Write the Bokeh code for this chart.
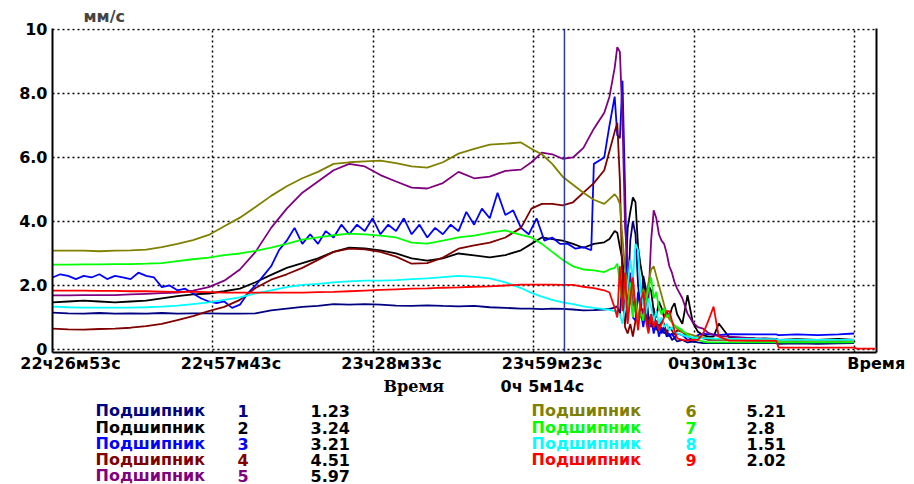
import numpy as np
from bokeh.plotting import figure
from bokeh.models import Span, LinearAxis, FixedTicker, Range1d
from bokeh.layouts import column
from bokeh.core.properties import value
from bokeh.embed import file_html
from bokeh.resources import INLINE

FONT = "DejaVu Sans"
SERIF = "DejaVu Serif"
nan = float("nan")

# time axis: minutes after 22:26:53
t_min = [0, 3, 6, 9, 12, 15, 18, 21, 24, 27, 30, 33, 36, 39, 42, 45, 48, 51, 54, 57, 60, 63, 66, 69, 72, 75, 78, 81, 84, 87, 90,
         92, 94, 96, 98, 100, 102, 104, 106, 107,
         108, 108.5, 109, 109.5, 110, 110.5, 111, 111.5, 112, 112.5, 113, 113.5, 114, 114.5, 115, 115.5, 116, 116.5, 117, 117.5, 118, 118.5, 119, 119.5, 120,
         121, 122, 123, 124, 125, 126,
         127, 128, 130, 135, 139, 139.5, 143, 147, 151, 154, 154.5, 158]

s1 = [1.15, 1.13, 1.12, 1.14, 1.12, 1.13, 1.12, 1.14, 1.12, 1.13, 1.13, 1.12, 1.12, 1.13, 1.22, 1.28, 1.33, 1.36, 1.42, 1.40, 1.42, 1.40, 1.37, 1.36, 1.38, 1.36, 1.35, 1.36, 1.32, 1.30, 1.28,
      1.28, 1.26, 1.28, 1.27, 1.25, 1.22, 1.23, 1.25, 1.27,
      1.31, 1.35, 1.10, 2.20, 0.80, 1.50, 3.40, 4.00, 3.60, 2.00, 1.20, 2.30, 1.90, 1.00, 0.70, 1.30, 0.60, 0.90, 0.50, 0.70, 0.40, 0.50, 0.30, 0.35, 0.25,
      0.30, 0.22, 0.25, 0.22, 0.20, 0.20,
      0.20, 0.20, 0.20, 0.20, 0.20, 0.18, 0.19, 0.18, 0.19, 0.20, nan, nan]
s2 = [1.47, 1.50, 1.53, 1.50, 1.47, 1.50, 1.53, 1.60, 1.67, 1.72, 1.75, 1.82, 1.90, 2.10, 2.33, 2.55, 2.70, 2.85, 3.05, 3.18, 3.16, 3.10, 3.00, 2.85, 2.78, 2.85, 3.00, 2.94, 2.88, 2.95, 3.10,
      3.30, 3.50, 3.45, 3.40, 3.30, 3.18, 3.30, 3.35, 3.45,
      3.70, 3.65, 3.20, 2.80, 1.80, 3.80, 4.30, 4.75, 4.60, 3.20, 2.60, 2.15, 1.40, 2.00, 1.84, 1.20, 1.00, 1.50, 1.30, 1.00, 1.20, 1.00, 1.30, 1.45, 1.10,
      0.80, 1.70, 0.85, 0.55, 0.45, 0.40,
      0.40, 0.81, 0.38, 0.35, 0.33, 0.30, 0.32, 0.30, 0.33, 0.30, nan, nan]
# series 3 is noisier: its own, denser time list before the breakdown
t3_head = [0, 1.5, 3, 4.5, 6, 7.5, 9, 10.5, 12, 13.5, 15, 16.5, 18, 19.5, 21, 22.5, 24, 25.5, 27, 28.5,
           30, 31.5, 33, 34.5, 36, 37.5, 39, 40.5, 42, 43.5, 45, 46.5, 48, 49.5, 51, 52.5, 54, 55.5, 57, 58.5,
           60, 61.5, 63, 64.5, 66, 67.5, 69, 70.5, 72, 73.5, 75, 76.5, 78, 79.5, 81, 82.5, 84, 85.5, 87, 88.5,
           90, 91.5, 93, 94.5, 96, 97.5, 99, 100.5, 102, 103.5, 104, 106, 107]
s3_head = [2.25, 2.35, 2.30, 2.20, 2.30, 2.25, 2.35, 2.20, 2.30, 2.25,
           2.20, 2.40, 2.30, 2.25, 1.95, 2.00, 1.85, 1.90, 1.75, 1.60,
           1.50, 1.45, 1.50, 1.30, 1.40, 1.75, 2.00, 2.30, 2.60, 3.10,
           3.40, 3.80, 3.30, 3.60, 3.30, 3.70, 3.50, 3.90, 3.60, 3.90,
           3.70, 4.10, 3.60, 3.90, 3.70, 4.10, 3.60, 3.90, 3.50, 3.80,
           3.60, 3.90, 3.70, 4.30, 3.90, 4.40, 4.10, 4.90, 4.20, 4.35,
           3.80, 3.60, 4.10, 3.40, 3.50, 3.30, 3.30, 3.15, 3.20, 3.10,
           5.80, 6.00, 7.00]
s3_tail = [7.90, 6.70, 6.60, 8.40, 5.00, 1.20, 2.40, 1.00, 0.90, 1.80, 1.20, 0.70, 1.30, 0.60, 1.00, 0.50, 0.90, 0.40, 0.70, 0.50, 0.60, 0.40, 0.50, 0.35, 0.50,
           0.45, 0.30, 0.35, 0.45, 0.50, 0.47,
           0.47, 0.45, 0.48, 0.47, 0.47, 0.45, 0.47, 0.45, 0.47, 0.50, nan, nan]
s4 = [0.65, 0.63, 0.62, 0.64, 0.65, 0.68, 0.73, 0.80, 0.92, 1.04, 1.20, 1.33, 1.55, 1.92, 2.18, 2.35, 2.55, 2.80, 3.05, 3.15, 3.13, 3.05, 2.90, 2.68, 2.70, 2.87, 3.15, 3.25, 3.34, 3.50, 3.80,
      4.40, 4.55, 4.55, 4.50, 4.60, 4.90, 5.20, 5.60, 6.20,
      6.80, 7.08, 5.30, 2.00, 0.70, 0.50, 0.80, 0.40, 0.90, 1.10, 1.00, 1.30, 1.00, 0.80, 1.10, 0.70, 0.90, 0.60, 0.90, 0.80, 0.50, 0.70, 0.60, 0.45, 0.60,
      0.55, 0.40, 0.35, 0.40, 0.35, 0.30,
      0.30, 0.30, 0.30, 0.28, 0.28, 0.30, 0.28, 0.30, 0.28, 0.30, nan, nan]
s5 = [1.69, 1.69, 1.70, 1.70, 1.70, 1.72, 1.74, 1.76, 1.78, 1.84, 1.95, 2.15, 2.50, 3.05, 3.80, 4.40, 4.90, 5.25, 5.60, 5.80, 5.72, 5.45, 5.25, 5.06, 5.03, 5.20, 5.55, 5.35, 5.40, 5.58, 5.62,
      5.85, 6.15, 6.10, 5.96, 6.00, 6.30, 6.90, 7.40, 7.90,
      8.80, 9.45, 9.30, 7.20, 3.80, 2.70, 2.20, 1.50, 1.20, 1.00, 1.30, 1.10, 1.40, 1.60, 3.40, 4.35, 4.10, 3.60, 3.40, 3.30, 3.00, 2.60, 2.40, 2.10, 1.90,
      1.60, 1.12, 0.85, 0.70, 0.65, 0.52,
      0.45, 0.42, 0.40, 0.35, 0.32, 0.30, 0.30, 0.30, 0.30, 0.30, nan, nan]
s6 = [3.09, 3.09, 3.09, 3.07, 3.09, 3.10, 3.12, 3.20, 3.30, 3.42, 3.58, 3.85, 4.12, 4.45, 4.80, 5.10, 5.35, 5.55, 5.80, 5.85, 5.88, 5.90, 5.82, 5.72, 5.68, 5.85, 6.12, 6.27, 6.40, 6.43, 6.47,
      6.27, 6.10, 5.80, 5.40, 5.15, 4.90, 4.68, 4.55, 4.70,
      4.85, 4.75, 4.55, 3.50, 2.50, 1.90, 1.40, 2.00, 1.20, 1.00, 1.50, 1.90, 1.60, 2.10, 2.50, 2.60, 2.30, 2.00, 1.70, 1.40, 1.10, 0.95, 0.85, 0.75, 0.65,
      0.55, 0.50, 0.45, 0.40, 0.38, 0.35,
      0.33, 0.32, 0.30, 0.28, 0.27, 0.27, 0.27, 0.27, 0.27, 0.27, nan, nan]
s7 = [2.65, 2.65, 2.66, 2.66, 2.67, 2.67, 2.68, 2.70, 2.76, 2.82, 2.87, 2.95, 3.00, 3.08, 3.18, 3.30, 3.43, 3.50, 3.57, 3.62, 3.60, 3.56, 3.50, 3.34, 3.31, 3.40, 3.50, 3.56, 3.65, 3.72, 3.58,
      3.50, 3.30, 3.05, 2.80, 2.60, 2.50, 2.47, 2.42, 2.50,
      2.55, 2.68, 2.10, 1.40, 2.00, 1.20, 2.10, 1.00, 1.60, 0.70, 1.20, 0.90, 1.50, 1.90, 2.25, 1.60, 1.80, 1.30, 1.10, 1.30, 1.00, 1.10, 0.85, 0.75, 0.70,
      0.60, 0.45, 0.35, 0.30, 0.25, 0.22,
      0.22, 0.22, 0.22, 0.22, 0.22, 0.22, 0.22, 0.22, 0.22, 0.22, nan, nan]
s8 = [1.34, 1.32, 1.31, 1.31, 1.31, 1.31, 1.32, 1.34, 1.37, 1.42, 1.47, 1.55, 1.63, 1.75, 1.85, 1.95, 2.02, 2.05, 2.10, 2.13, 2.15, 2.15, 2.17, 2.20, 2.22, 2.26, 2.30, 2.27, 2.22, 2.10, 1.92,
      1.77, 1.65, 1.55, 1.47, 1.42, 1.35, 1.30, 1.26, 1.24,
      1.20, 1.15, 1.10, 0.80, 1.30, 2.00, 2.80, 2.20, 3.30, 3.10, 1.80, 1.40, 1.10, 1.60, 1.30, 0.90, 1.20, 0.80, 1.00, 0.70, 0.80, 0.60, 0.70, 0.55, 0.50,
      0.45, 0.40, 0.38, 0.36, 0.35, 0.35,
      0.34, 0.34, 0.33, 0.33, 0.32, 0.30, 0.30, 0.30, 0.30, 0.30, nan, nan]
s9 = [1.84, 1.84, 1.84, 1.83, 1.83, 1.82, 1.82, 1.81, 1.80, 1.80, 1.79, 1.78, 1.78, 1.78, 1.78, 1.78, 1.78, 1.79, 1.80, 1.82, 1.84, 1.86, 1.88, 1.90, 1.91, 1.93, 1.94, 1.96, 1.97, 2.00, 2.03,
      2.03, 2.03, 2.03, 2.02, 2.02, 1.96, 1.92, 1.85, 1.78,
      1.30, 1.00, 2.60, 1.20, 2.40, 0.80, 1.60, 2.25, 1.30, 0.60, 1.50, 1.80, 0.90, 0.50, 1.10, 0.70, 0.90, 0.60, 0.80, 1.00, 1.20, 1.20, 0.90, 0.60, 0.35,
      0.30, 0.28, 0.30, 0.30, 0.50, 0.90,
      1.34, 0.40, 0.28, 0.28, 0.28, 0.06, 0.06, 0.06, 0.06, 0.06, 0.03, 0.03]

t3 = t3_head + t_min[40:]
s3 = s3_head + s3_tail

times = [t_min, t_min, t3, t_min, t_min, t_min, t_min, t_min, t_min]
series = [s1, s2, s3, s4, s5, s6, s7, s8, s9]
colors = ["#000080", "#000000", "#0000FF", "#800000", "#800080", "#808000", "#00FF00", "#00FFFF", "#FF0000"]
names = ["Подшипник"] * 9
numbers = ["1", "2", "3", "4", "5", "6", "7", "8", "9"]
cursor_values = ["1.23", "3.24", "3.21", "4.51", "5.97", "5.21", "2.8", "1.51", "2.02"]

x_ticks_sec = [0, 1850, 3700, 5550, 7400, 9250]
x_tick_labels = ["22ч26м53с", "22ч57м43с", "23ч28м33с", "23ч59м23с", "0ч30м13с"]
x_axis_title = "Время"
y_ticks = [0, 2, 4, 6, 8, 10]
y_tick_labels = ["0", "2.0", "4.0", "6.0", "8.0", "10"]
cursor_sec = 5901
cursor_label = "Время"
cursor_text = "0ч 5м14с"

# ---------------- layout constants (px) ----------------
W = 914
FL, FW, FT, FH = 52, 824, 28, 324      # chart frame left, width, top, height
X_END = 9498
BOTTOM_B = 24
TOP_B = FT + FH + BOTTOM_B             # where the lower text panel starts
H_B = 484 - TOP_B
LABEL_SHIFT = 18 * X_END / FW          # tick labels sit a bit right of their grid line

# ---------------- chart ----------------
p = figure(frame_width=FW, frame_height=FH,
           min_border_left=FL, min_border_right=W - FL - FW, min_border_top=FT, min_border_bottom=BOTTOM_B,
           x_range=Range1d(0, X_END), y_range=Range1d(-0.094, 10.03),
           output_backend="svg", toolbar_location=None, tools="")
p.outline_line_color = None
p.background_fill_color = "white"
p.border_fill_color = "white"

p.title.text = "мм/с"
p.title.align = "left"
p.title.offset = 31
p.title.standoff = 5
p.title.text_font = FONT
p.title.text_font_style = "bold"
p.title.text_font_size = "16px"

p.yaxis.ticker = FixedTicker(ticks=y_ticks)
p.yaxis.major_label_overrides = dict(zip(y_ticks, y_tick_labels))
p.yaxis.major_tick_line_color = None
p.yaxis.major_tick_out = 0
p.yaxis.minor_tick_line_color = None
p.yaxis.axis_line_color = "black"
p.yaxis.axis_line_width = 2
p.yaxis.major_label_standoff = 5
p.yaxis.major_label_text_font = FONT
p.yaxis.major_label_text_font_style = "bold"
p.yaxis.major_label_text_font_size = "16px"
p.yaxis.major_label_text_color = "black"

label_ticks = [s + LABEL_SHIFT for s in x_ticks_sec[:len(x_tick_labels)]] + [X_END - 3]
p.xaxis.ticker = FixedTicker(ticks=label_ticks)
p.xaxis.major_label_overrides = dict(zip(label_ticks, x_tick_labels + [x_axis_title]))
p.xaxis.axis_line_color = "black"
p.xaxis.axis_line_width = 2
p.xaxis.major_tick_line_color = None
p.xaxis.major_tick_out = 0
p.xaxis.major_label_standoff = 1
p.xaxis.minor_tick_line_color = None
p.xaxis.major_label_text_font = FONT
p.xaxis.major_label_text_font_style = "bold"
p.xaxis.major_label_text_font_size = "16px"
p.xaxis.major_label_text_color = "black"

right_ax = LinearAxis(ticker=FixedTicker(ticks=[]), axis_line_color="black", axis_line_width=2,
                      major_tick_line_color=None, minor_tick_line_color=None,
                      major_tick_out=0, major_label_standoff=0)
p.add_layout(right_ax, "right")

p.xgrid.ticker = FixedTicker(ticks=x_ticks_sec)
for g in (p.xgrid, p.ygrid):
    g.grid_line_color = "black"
    g.grid_line_dash = "2 3"
    g.grid_line_width = 1.5

for tt, vals, c in zip(times, series, colors):
    p.line(np.array(tt, dtype=float) * 60.0, np.array(vals, dtype=float), line_color=c, line_width=1.8)

p.add_layout(Span(location=cursor_sec, dimension="height", line_color="#2b3aa8", line_width=1.5))

# ---------------- lower text panel (its frame lines up with the chart frame) ----------------
q = figure(width=W, height=H_B, x_range=Range1d(FL, FL + FW), y_range=Range1d(484, TOP_B),
           x_axis_type=None, y_axis_type=None, min_border=0,
           output_backend="svg", toolbar_location=None, tools="")
q.outline_line_color = None
q.grid.visible = False
q.background_fill_color = "white"
q.border_fill_color = "white"

def texts(xs, ys, ts, cols, align="left", font=FONT):
    q.text(x=xs, y=ys, text=ts, text_color=cols, text_font=value(font),
           text_font_size=value("16px"), text_font_style="bold",
           text_align=align, text_baseline="middle")

texts([383], [386], [cursor_label], ["black"], font=SERIF)
texts([500], [386], [cursor_text], ["black"])

rows = [410, 427, 443, 459, 475]
texts([95] * 5, rows, names[:5], colors[:5])
texts([237] * 5, rows, numbers[:5], colors[:5])
texts([310] * 5, rows, cursor_values[:5], ["black"] * 5)
texts([531] * 4, rows[:4], names[5:], colors[5:])
texts([685] * 4, rows[:4], numbers[5:], colors[5:])
texts([746] * 4, rows[:4], cursor_values[5:], ["black"] * 4)

layout = column(p, q, spacing=0)
open("out.html", "w").write(file_html(layout, INLINE))
